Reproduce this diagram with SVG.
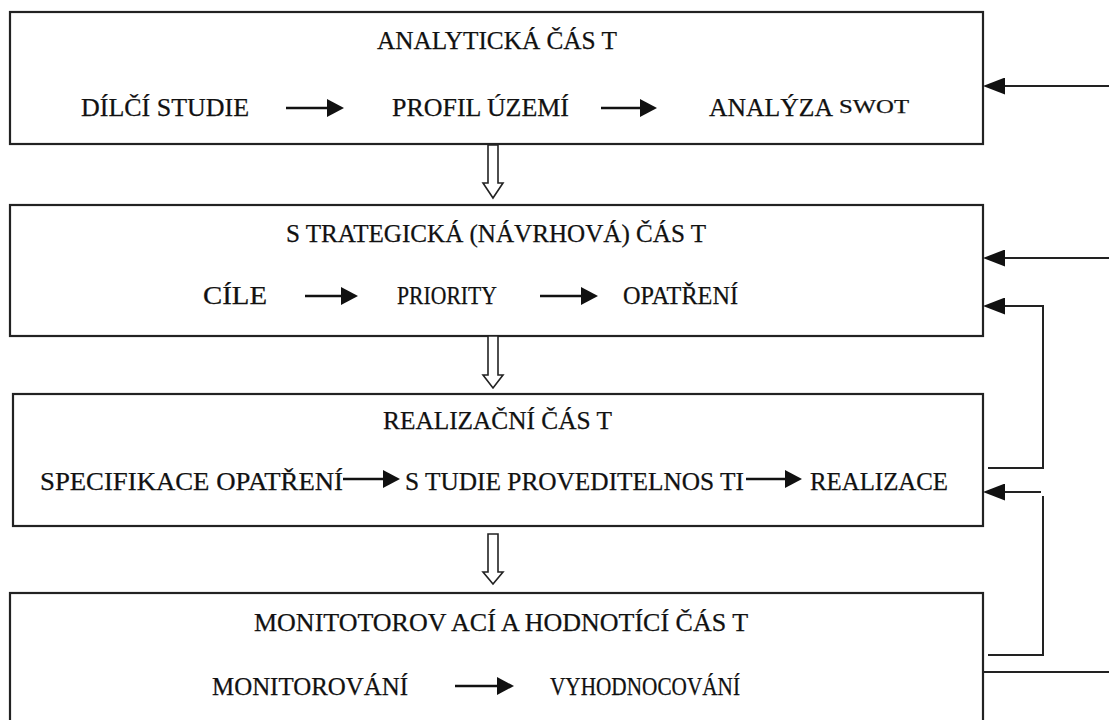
<svg xmlns="http://www.w3.org/2000/svg" width="1109" height="720" viewBox="0 0 1109 720">
<style>
.box{fill:#fff;stroke:#222;stroke-width:2.2}
.t{font-family:"Liberation Serif","Times New Roman",serif;font-size:25px;fill:#111;stroke:#111;stroke-width:0.25}
.s{font-family:"Liberation Serif","Times New Roman",serif;font-size:18px;fill:#111;stroke:#111;stroke-width:0.25}
.ar{stroke:#111;stroke-width:2.5;fill:none}
.cn{stroke:#222;stroke-width:2;fill:none}
.ho{fill:#fff;stroke:#222;stroke-width:1.6}
</style>
<defs>
<marker id="h" viewBox="0 0 17 18" refX="0" refY="9" markerWidth="17" markerHeight="18" markerUnits="userSpaceOnUse" orient="auto"><path d="M0,0 L17,9 L0,18 z" fill="#111"/></marker>
<marker id="hr" viewBox="0 0 22 17" refX="0" refY="8.5" markerWidth="22" markerHeight="17" markerUnits="userSpaceOnUse" orient="auto"><path d="M0,0 L22,8.5 L0,17 z" fill="#111"/></marker>
</defs>
<rect width="1109" height="720" fill="#fff"/>
<g id="box1">
<rect class="box" x="10" y="12" width="973" height="132"/>
<text class="t" x="377" y="49" textLength="240" lengthAdjust="spacingAndGlyphs">ANALYTICKÁ ČÁS T</text>
<text class="t" x="81" y="116" textLength="168" lengthAdjust="spacingAndGlyphs">DÍLČÍ STUDIE</text>
<line class="ar" x1="286" y1="108" x2="327" y2="108" marker-end="url(#h)"/>
<text class="t" x="392" y="116" textLength="177" lengthAdjust="spacingAndGlyphs">PROFIL ÚZEMÍ</text>
<line class="ar" x1="601" y1="108" x2="640" y2="108" marker-end="url(#h)"/>
<text class="t" x="709" y="116" textLength="124" lengthAdjust="spacingAndGlyphs">ANALÝZA</text>
<text class="s" x="839" y="113" textLength="70" lengthAdjust="spacingAndGlyphs">SWOT</text>
</g>
<g id="box2">
<rect class="box" x="10" y="205" width="973" height="131"/>
<text class="t" x="286" y="242" textLength="420" lengthAdjust="spacingAndGlyphs">S TRATEGICKÁ (NÁVRHOVÁ) ČÁS T</text>
<text class="t" x="203" y="304" textLength="64" lengthAdjust="spacingAndGlyphs">CÍLE</text>
<line class="ar" x1="305" y1="296" x2="341" y2="296" marker-end="url(#h)"/>
<text class="t" x="397" y="304" textLength="100" lengthAdjust="spacingAndGlyphs">PRIORITY</text>
<line class="ar" x1="540" y1="296" x2="581" y2="296" marker-end="url(#h)"/>
<text class="t" x="623" y="304" textLength="115" lengthAdjust="spacingAndGlyphs">OPATŘENÍ</text>
</g>
<g id="box3">
<rect class="box" x="13" y="394" width="970" height="132"/>
<text class="t" x="383" y="429" textLength="229" lengthAdjust="spacingAndGlyphs">REALIZAČNÍ ČÁS T</text>
<text class="t" x="40" y="490" textLength="303" lengthAdjust="spacingAndGlyphs">SPECIFIKACE OPATŘENÍ</text>
<line class="ar" x1="343" y1="479" x2="383" y2="479" marker-end="url(#h)"/>
<text class="t" x="405" y="490" textLength="339" lengthAdjust="spacingAndGlyphs">S TUDIE PROVEDITELNOS TI</text>
<line class="ar" x1="746" y1="479" x2="785" y2="479" marker-end="url(#h)"/>
<text class="t" x="810" y="490" textLength="138" lengthAdjust="spacingAndGlyphs">REALIZACE</text>
</g>
<g id="box4">
<rect class="box" x="10" y="593" width="973" height="140"/>
<text class="t" x="254" y="631" textLength="494" lengthAdjust="spacingAndGlyphs">MONITOTOROV ACÍ A HODNOTÍCÍ ČÁS T</text>
<text class="t" x="212" y="695" textLength="196" lengthAdjust="spacingAndGlyphs">MONITOROVÁNÍ</text>
<line class="ar" x1="455" y1="686" x2="497" y2="686" marker-end="url(#h)"/>
<text class="t" x="550" y="695" textLength="190" lengthAdjust="spacingAndGlyphs">VYHODNOCOVÁNÍ</text>
</g>
<g id="connectors">
<polygon class="ho" points="488,145 498,145 498,183 503,183 493,198 483,183 488,183"/>
<polygon class="ho" points="488,336 498,336 498,375 503,375 493,388 483,375 488,375"/>
<polygon class="ho" points="488,534 498,534 498,572 503,572 493,584 483,572 488,572"/>
<line class="cn" x1="1109" y1="86" x2="1005" y2="86" marker-end="url(#hr)"/>
<line class="cn" x1="1109" y1="258" x2="1005" y2="258" marker-end="url(#hr)"/>
<polyline class="cn" points="988,468 1043,468 1043,306 1005,306" marker-end="url(#hr)"/>
<polyline class="cn" points="988,655 1043,655 1043,496"/>
<line class="cn" x1="1041" y1="492" x2="1005" y2="492" marker-end="url(#hr)"/>
<line class="cn" x1="983" y1="672" x2="1109" y2="672"/>
</g>
</svg>
